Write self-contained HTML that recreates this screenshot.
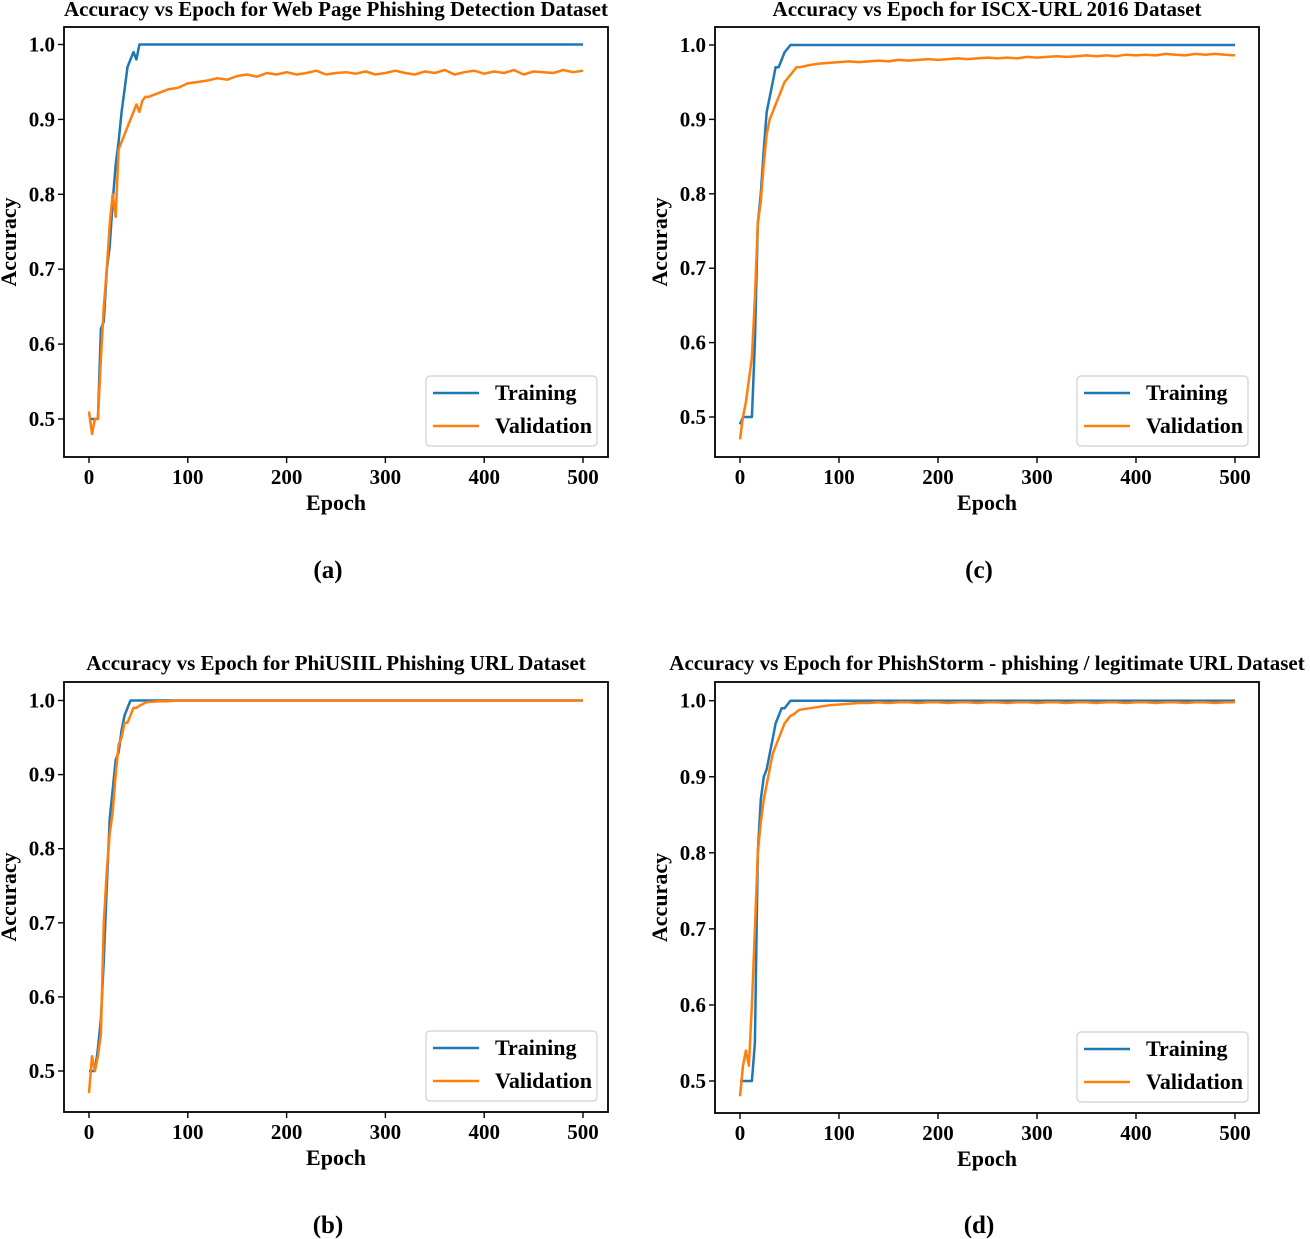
<!DOCTYPE html>
<html><head><meta charset="utf-8"><style>
html,body{margin:0;padding:0;background:#fff;}
svg{display:block;font-family:"Liberation Serif",serif;font-weight:bold;}
</style></head><body>
<svg id="fig" width="1310" height="1239" viewBox="0 0 1310 1239" xmlns="http://www.w3.org/2000/svg"></svg>
<script>
const epochsEarly = [0,3,6,9,12,15,18,21,24,27,30,33,36,39,42,45,48,51,54,57,60];
const epochsLate = [70,80,90,100,110,120,130,140,150,160,170,180,190,200,210,220,230,240,250,260,270,280,290,300,310,320,330,340,350,360,370,380,390,400,410,420,430,440,450,460,470,480,490,500];
const epochs = epochsEarly.concat(epochsLate);
const xTicks = [0,100,200,300,400,500];
const yTicks = [0.5,0.6,0.7,0.8,0.9,1.0];
const ones44 = new Array(44).fill(1.0);

const trainA = [0.50,0.50,0.50,0.50,0.62,0.63,0.70,0.73,0.79,0.84,0.87,0.91,0.94,0.97,0.98,0.99,0.98,1.0,1.0,1.0,1.0].concat(ones44);
const valA = [0.51,0.48,0.50,0.50,0.58,0.65,0.70,0.76,0.80,0.77,0.86,0.87,0.88,0.89,0.90,0.91,0.92,0.91,0.925,0.93,0.93,
 0.935,0.94,0.942,0.948,0.95,0.952,0.955,0.953,0.958,0.96,0.957,0.962,0.96,0.963,0.96,0.962,0.965,0.96,0.962,0.963,0.961,0.964,0.96,0.962,0.965,0.962,0.96,0.964,0.962,0.966,0.96,0.963,0.965,0.961,0.964,0.962,0.966,0.96,0.964,0.963,0.962,0.966,0.963,0.965];
const trainC = [0.49,0.50,0.50,0.50,0.50,0.60,0.76,0.80,0.86,0.91,0.93,0.95,0.97,0.97,0.98,0.99,0.995,1.0,1.0,1.0,1.0].concat(ones44);
const valC = [0.47,0.50,0.52,0.55,0.58,0.66,0.76,0.79,0.84,0.88,0.90,0.91,0.92,0.93,0.94,0.95,0.955,0.96,0.965,0.97,0.97,
 0.973,0.975,0.976,0.977,0.978,0.977,0.978,0.979,0.978,0.98,0.979,0.98,0.981,0.98,0.981,0.982,0.981,0.982,0.983,0.982,0.983,0.982,0.984,0.983,0.984,0.985,0.984,0.985,0.986,0.985,0.986,0.985,0.987,0.986,0.987,0.986,0.988,0.987,0.986,0.988,0.987,0.988,0.987,0.986];
const trainB = [0.50,0.50,0.50,0.53,0.57,0.65,0.75,0.84,0.88,0.92,0.93,0.96,0.98,0.99,1.0,1.0,1.0,1.0,1.0,1.0,1.0].concat(ones44);
const valB = [0.47,0.52,0.50,0.52,0.55,0.70,0.77,0.82,0.85,0.90,0.94,0.95,0.97,0.97,0.98,0.99,0.99,0.993,0.995,0.997,0.998,
 0.999,0.999,1.0,1.0,1.0,1.0,1.0,1.0,1.0,1.0,1.0,1.0,1.0,1.0,1.0,1.0,1.0,1.0,1.0,1.0,1.0,1.0,1.0,1.0,1.0,1.0,1.0,1.0,1.0,1.0,1.0,1.0,1.0,1.0,1.0,1.0,1.0,1.0,1.0,1.0,1.0,1.0,1.0,1.0];
const trainD = [0.50,0.50,0.50,0.50,0.50,0.55,0.80,0.87,0.90,0.91,0.93,0.95,0.97,0.98,0.99,0.99,0.995,1.0,1.0,1.0,1.0].concat(ones44);
const valD = [0.48,0.52,0.54,0.52,0.60,0.70,0.80,0.84,0.87,0.89,0.91,0.93,0.94,0.95,0.96,0.97,0.975,0.98,0.982,0.985,0.988,
 0.99,0.992,0.994,0.995,0.996,0.997,0.997,0.998,0.997,0.998,0.998,0.997,0.998,0.998,0.997,0.998,0.998,0.997,0.998,0.998,0.997,0.998,0.998,0.997,0.998,0.998,0.997,0.998,0.998,0.997,0.998,0.998,0.997,0.998,0.998,0.997,0.998,0.998,0.997,0.998,0.998,0.997,0.998,0.998];

const panels = [
 {id:'a', title:'Accuracy vs Epoch for Web Page Phishing Detection Dataset', tx:336, ty:16, box:[64,27,608,457], x0:89, x500:583, y10:44.5, y05:419, train:trainA, val:valA, lab:570},
 {id:'c', title:'Accuracy vs Epoch for ISCX-URL 2016 Dataset', tx:987, ty:16, box:[715,27,1259,457], x0:740, x500:1235, y10:45, y05:417, train:trainC, val:valC, lab:570},
 {id:'b', title:'Accuracy vs Epoch for PhiUSIIL Phishing URL Dataset', tx:336, ty:670, box:[64,682,608,1112], x0:89, x500:583, y10:700.5, y05:1071, train:trainB, val:valB, lab:1225},
 {id:'d', title:'Accuracy vs Epoch for PhishStorm - phishing / legitimate URL Dataset', tx:987, ty:670, box:[715,682,1259,1113], x0:740, x500:1235, y10:700.7, y05:1081, train:trainD, val:valD, lab:1225}
];
const NS='http://www.w3.org/2000/svg';
const svg=document.getElementById('fig');
function mk(tag,attrs,parent){const e=document.createElementNS(NS,tag);for(const k in attrs)e.setAttribute(k,attrs[k]);(parent||svg).appendChild(e);return e;}
panels.forEach(p=>{
  const g=mk('g',{});
  
  
  const xs=v=>p.x0+(p.x500-p.x0)*v/500;
  const ys=v=>p.y05+(p.y10-p.y05)*(v-0.5)/0.5;
  const [L,T,R,B]=p.box;
  const t=mk('text',{x:p.tx,y:p.ty,'text-anchor':'middle','font-size':21},g);t.textContent=p.title;
  
  
  [[p.train,'#1f77b4','training-line'],[p.val,'#ff7f0e','validation-line']].forEach(([arr,c,n])=>{
    const n2=Math.min(arr.length,epochs.length);let d='';
    for(let i=0;i<n2;i++)d+=(i?'L':'M')+xs(epochs[i]).toFixed(1)+','+ys(arr[i]).toFixed(1);
    const pl=mk('path',{d:d,fill:'none',stroke:c,'stroke-width':2.5,'stroke-linejoin':'round'},g);
    
    
  });
  const bx=mk('rect',{x:L,y:T,width:R-L,height:B-T,fill:'none',stroke:'#000','stroke-width':1.8},g);
  
  
  xTicks.forEach(v=>{const x=xs(v);mk('line',{x1:x,x2:x,y1:B,y2:B+6,stroke:'#000','stroke-width':1.4},g);
    const tl=mk('text',{x:x,y:B+27,'text-anchor':'middle','font-size':21},g);tl.textContent=v;
    
    });
  yTicks.forEach(v=>{const y=ys(v);mk('line',{x1:L-6,x2:L,y1:y,y2:y,stroke:'#000','stroke-width':1.4},g);
    const tl=mk('text',{x:L-9,y:y+7,'text-anchor':'end','font-size':21},g);tl.textContent=v.toFixed(1);
    
    });
  const xl=mk('text',{x:(L+R)/2,y:B+53,'text-anchor':'middle','font-size':22},g);xl.textContent='Epoch';
  
  
  const cy=(T+B)/2;
  const yl=mk('text',{x:L-48,y:cy,'text-anchor':'middle','font-size':22,transform:'rotate(-90 '+(L-48)+' '+cy+')'},g);yl.textContent='Accuracy';
  
  
  const lg=mk('g',{},g);
  
  
  const lx=R-182, ly=B-81;
  mk('rect',{x:lx,y:ly,width:171,height:70,rx:4,fill:'#fff',stroke:'#d0d0d0','stroke-width':1.2},lg);
  [['Training','#1f77b4',17],['Validation','#ff7f0e',50]].forEach(([s,c,dy])=>{
    mk('line',{x1:lx+7,x2:lx+53,y1:ly+dy,y2:ly+dy,stroke:c,'stroke-width':2.6},lg);
    const tt=mk('text',{x:lx+69,y:ly+dy+7,'font-size':22},lg);tt.textContent=s;
    
    
  });
  const cap=mk('text',{x:(L+R)/2-8,y:p.lab+8,'text-anchor':'middle','font-size':25},g);cap.textContent='('+p.id+')';
  
  
});
</script>
</body></html>
